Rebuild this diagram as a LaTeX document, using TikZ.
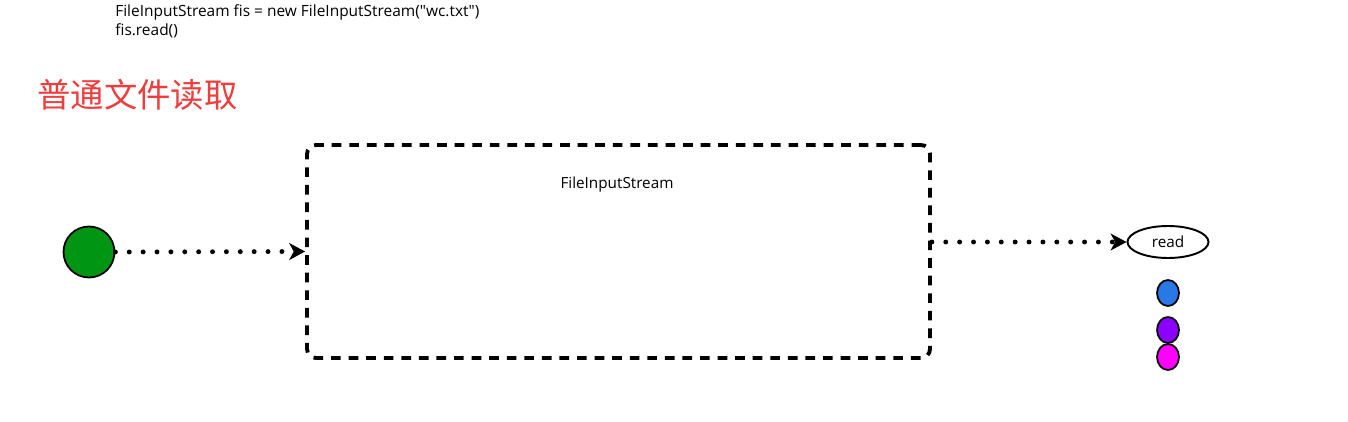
\documentclass[tikz,border=0pt]{standalone}
\usepackage{fontspec}
\setmainfont{Open Sans}
\newfontfamily\cjk{Noto Sans CJK SC}
\usetikzlibrary{arrows.meta,shapes.geometric}
\definecolor{titlered}{RGB}{240,60,60}
\definecolor{startgreen}{RGB}{0,150,20}
\definecolor{dotblue}{RGB}{40,120,230}
\definecolor{dotpurple}{RGB}{140,0,255}
\definecolor{dotpink}{RGB}{255,0,255}
\tikzstyle{annot} = [align=left, anchor=west, inner sep=0pt, font=\fontsize{8.8}{10.8}\selectfont]
\tikzstyle{dotted flow} = [line width=2.8pt, line cap=round, dash pattern=on 0pt off 7.9pt, -{Stealth[length=9pt,width=9.5pt,inset=2.5pt]}]
\tikzstyle{stream} = [rectangle, draw=black, line width=2.2pt, dash pattern=on 5.5pt off 4.5pt, rounded corners=5pt, minimum width=12.46cm, minimum height=4.26cm, inner sep=0pt]
\tikzstyle{ball} = [ellipse, draw=black, line width=1pt, minimum width=0.44cm, minimum height=0.52cm, inner sep=0pt]

\begin{document}
\begin{tikzpicture}[x=0.02cm, y=-0.02cm]
	\useasboundingbox (0,0) rectangle (1348,422);

	% code lines
	\node[annot] (code) at (115,21) {FileInputStream fis = new FileInputStream(\textquotedbl wc.txt\textquotedbl)\\fis.read()};
	\node[anchor=west, inner sep=0pt, text=titlered, font=\cjk\fontsize{19}{20}\selectfont] (title) at (37,95) {普通文件读取};

	\node[circle, draw=black, line width=1pt, fill=startgreen, minimum size=1.02cm, inner sep=0pt] (src) at (89,252) {};
	\node[stream] (fis) at (618.5,251.5) {};
	\node[inner sep=0pt, font=\fontsize{8.7}{10}\selectfont] (fisname) at (617,185) {FileInputStream};

	\node[ellipse, draw=black, line width=1.1pt, minimum width=1.62cm, minimum height=0.64cm, inner sep=0pt, font=\fontsize{8.7}{10}\selectfont] (rd) at (1168,242) {read};
	\node[ball, fill=dotblue] (b1) at (1168,293) {};
	\node[ball, fill=dotpurple] (b2) at (1168,330) {};
	\node[ball, fill=dotpink] (b3) at (1168,357) {};

	\draw[dotted flow] (src.east) -- (fis.west);
	\draw[dotted flow] (fis.east |- rd.west) -- (rd.west);
\end{tikzpicture}
\end{document}
